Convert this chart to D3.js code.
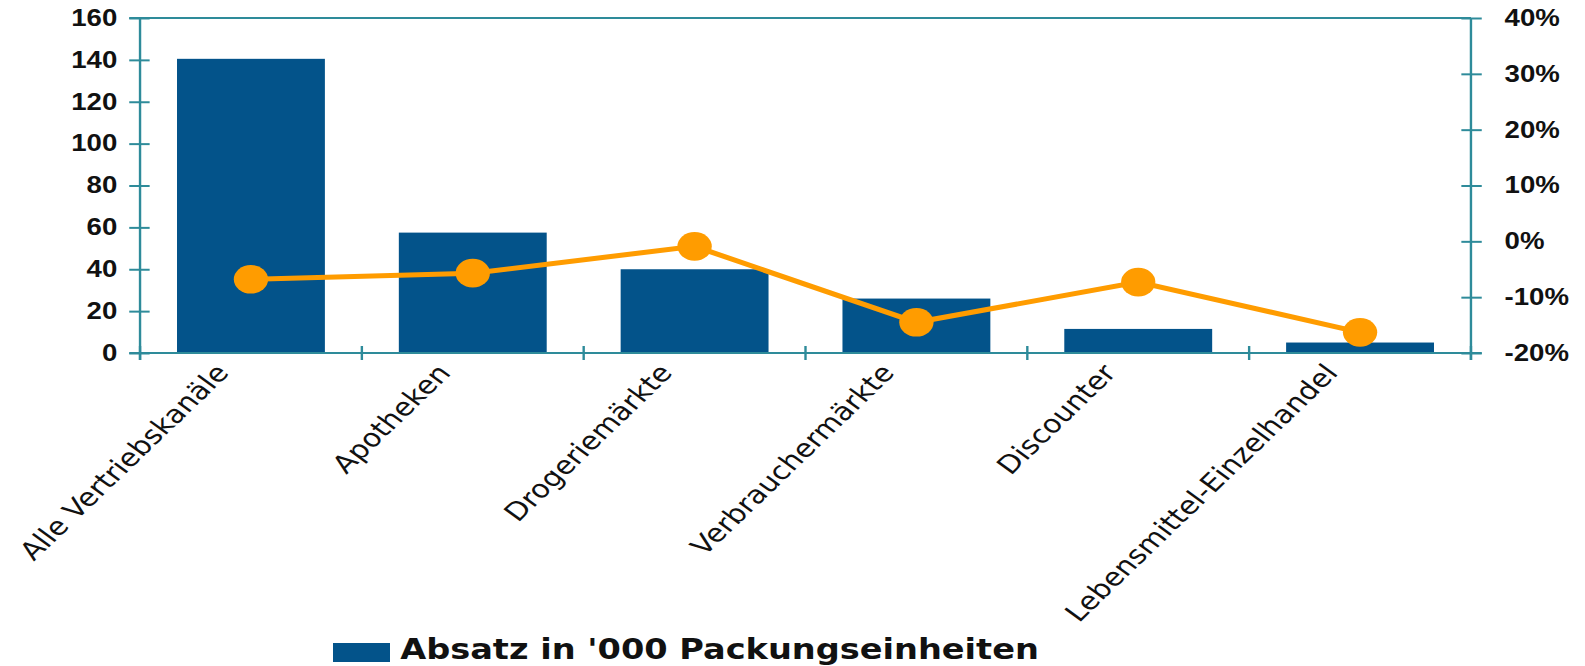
<!DOCTYPE html>
<html lang="de">
<head>
    <meta charset="UTF-8">
    <title>Absatz nach Vertriebskanal</title>
    <script src="https://d3js.org/d3.v7.min.js"></script>
    <style>
        body { margin: 0; background: #fff; }
        svg { display: block; font-family: "DejaVu Sans", Verdana, sans-serif; }
        .axis path, .axis line { stroke: #2e8b9a; stroke-width: 2; }
        .axis text { fill: #111; font-weight: bold; font-size: 23px; }
    </style>
</head>
<body>
<div class="viz"></div>
<script>
    // data
    const categories = ["Alle Vertriebskanäle", "Apotheken", "Drogeriemärkte", "Verbrauchermärkte", "Discounter", "Lebensmittel-Einzelhandel"];
    const absatz = [140.5, 57.5, 40, 26, 11.5, 5];          // '000 Packungseinheiten
    const veraenderung = [-6.8, -5.7, -0.9, -14.5, -7.3, -16.3]; // % change
    const leftTicks = [0, 20, 40, 60, 80, 100, 120, 140, 160];
    const rightTicks = [-20, -10, 0, 10, 20, 30, 40];
    const legendLabel = "Absatz in '000 Packungseinheiten";

    const width = 1585, height = 666;
    const stretch = 1.2;               // the original picture is stretched sideways
    const vbWidth = width / stretch;

    const svg = d3.select(".viz").append("svg")
        .attr("width", width)
        .attr("height", height)
        .attr("viewBox", `0 0 ${vbWidth} ${height}`)
        .attr("preserveAspectRatio", "none");

    const plotLeft = 116.7, plotRight = 1225.8, plotTop = 18, plotBottom = 353;

    const x = d3.scaleBand()
        .domain(categories)
        .range([plotLeft, plotRight])
        .paddingInner(1 / 3)
        .paddingOuter(1 / 6);

    const y = d3.scaleLinear().domain([0, 160]).range([plotBottom, plotTop]);
    const y2 = d3.scaleLinear().domain([-20, 40]).range([plotBottom, plotTop]);

    // frame top
    svg.append("line")
        .attr("x1", plotLeft - 9).attr("x2", plotRight)
        .attr("y1", plotTop).attr("y2", plotTop)
        .attr("stroke", "#2e8b9a").attr("stroke-width", 2);

    // bars
    svg.append("g").selectAll("rect")
        .data(categories)
        .join("rect")
        .attr("x", d => x(d))
        .attr("y", (d, i) => y(absatz[i]))
        .attr("width", x.bandwidth())
        .attr("height", (d, i) => y(0) - y(absatz[i]))
        .attr("fill", "#03538a");

    // left axis
    const gLeft = svg.append("g")
        .attr("class", "axis")
        .attr("transform", `translate(${plotLeft},0)`)
        .call(d3.axisLeft(y).tickValues(leftTicks).tickSize(9).tickPadding(10));
    gLeft.select(".domain").attr("d", `M0,${plotTop}V${plotBottom + 7}`);
    gLeft.selectAll(".tick line").attr("x1", 8);

    // right axis
    const gRight = svg.append("g")
        .attr("class", "axis")
        .attr("transform", `translate(${plotRight},0)`)
        .call(d3.axisRight(y2).tickValues(rightTicks).tickSize(9).tickPadding(19).tickFormat(d => d + "%"));
    gRight.select(".domain").attr("d", `M0,${plotTop}V${plotBottom + 7}`);
    gRight.selectAll(".tick line").attr("x1", -8);

    // bottom axis with ticks on band boundaries
    const gap = (x.step() - x.bandwidth()) / 2;
    const bounds = categories.map(c => x(c) - gap).concat([plotRight]);
    svg.append("line")
        .attr("x1", plotLeft - 9).attr("x2", plotRight + 9)
        .attr("y1", plotBottom).attr("y2", plotBottom)
        .attr("stroke", "#2e8b9a").attr("stroke-width", 2);
    svg.append("g").selectAll("line")
        .data(bounds)
        .join("line")
        .attr("x1", d => d).attr("x2", d => d)
        .attr("y1", plotBottom - 7).attr("y2", plotBottom + 7)
        .attr("stroke", "#2e8b9a").attr("stroke-width", 2);

    // category labels, clipped at the top like the original
    svg.append("clipPath").attr("id", "labelClip")
        .append("rect").attr("x", 0).attr("y", 363).attr("width", vbWidth).attr("height", height - 363);
    svg.append("g")
        .attr("clip-path", "url(#labelClip)")
        .selectAll("text")
        .data(categories)
        .join("text")
        .attr("transform", d => `translate(${x(d) + x.bandwidth() / 2 - 24},${368}) rotate(-49)`)
        .attr("text-anchor", "end")
        .attr("dy", "0.35em")
        .style("font-size", "25px")
        .attr("fill", "#111")
        .text(d => d);

    // line series
    const line = d3.line()
        .x((d, i) => x(categories[i]) + x.bandwidth() / 2)
        .y(d => y2(d));
    svg.append("path")
        .datum(veraenderung)
        .attr("d", line)
        .attr("fill", "none")
        .attr("stroke", "#ff9c00")
        .attr("stroke-width", 5);
    svg.append("g").selectAll("circle")
        .data(veraenderung)
        .join("circle")
        .attr("cx", (d, i) => x(categories[i]) + x.bandwidth() / 2)
        .attr("cy", d => y2(d))
        .attr("r", 14.3)
        .attr("fill", "#ff9c00");

    // legend
    const legend = svg.append("g").attr("transform", "translate(277.5,643)");
    legend.append("rect").attr("width", 47.5).attr("height", 19).attr("fill", "#03538a");
    legend.append("text")
        .attr("x", 56).attr("y", 16)
        .style("font-size", "28px").style("font-weight", "bold")
        .attr("fill", "#111")
        .text(legendLabel);
</script>
</body>
</html>
